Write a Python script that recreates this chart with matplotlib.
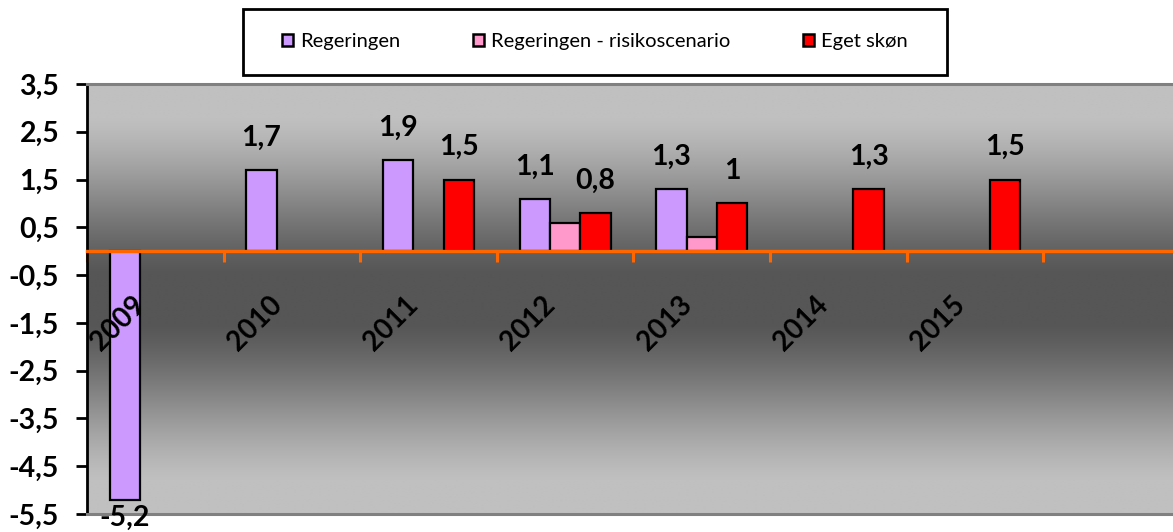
import numpy as np
import matplotlib
matplotlib.use("Agg")
import matplotlib.pyplot as plt
from matplotlib.patches import Rectangle, Patch

# ---- data ----
years = ["2009", "2010", "2011", "2012", "2013", "2014", "2015", ""]
regeringen = [-5.2, 1.7, 1.9, 1.1, 1.3, np.nan, np.nan, np.nan]
risiko = [np.nan, np.nan, np.nan, 0.6, 0.3, np.nan, np.nan, np.nan]
eget = [np.nan, np.nan, 1.5, 0.8, 1.0, 1.3, 1.5, np.nan]
series_names = ["Regeringen", "Regeringen - risikoscenario", "Eget skøn"]
series_colors = ["#CC99FF", "#FF99CC", "#FF0000"]
yticks = [-5.5, -4.5, -3.5, -2.5, -1.5, -0.5, 0.5, 1.5, 2.5, 3.5]

FONT = "Lato"
W, H = 1173, 532
fig = plt.figure(figsize=(W / 100, H / 100), dpi=100)
fig.patch.set_facecolor("white")

ax_left, ax_right, ax_top, ax_bot = 87, 87 + 8 * 136.6, 84, 514
ax = fig.add_axes([ax_left / W, 1 - ax_bot / H, (ax_right - ax_left) / W, (ax_bot - ax_top) / H])

ymin, ymax = -5.5, 3.5
ax.set_ylim(ymin, ymax)
ax.set_xlim(-0.5, len(years) - 0.5)

# background gradient (dark in the middle, light at top/bottom)
yy = np.linspace(0, 1, 400)
t = np.abs(yy - 0.5) * 2
s = np.clip((t - 0.12) / 0.72, 0, 1)
f = 0.6 * s + 0.4 * s * s * (3 - 2 * s)
grad = (86 + (192 - 86) * f) / 255.0
img = np.stack([grad, grad, grad], axis=-1)[:, None, :].repeat(2, axis=1)
ax.imshow(img, extent=(-0.5, len(years) - 0.5, ymin, ymax), aspect="auto",
          origin="lower", zorder=0, interpolation="bilinear")

x = np.arange(len(years))
bw = 0.2225
for k, (vals, col) in enumerate(zip([regeringen, risiko, eget], series_colors)):
    ax.bar(x + (k - 1) * bw, vals, width=bw, color=col, edgecolor="black",
           linewidth=1.6, zorder=3)

def fmt(v):
    return ("%g" % v).replace(".", ",")

for k, vals in [(0, regeringen), (2, eget)]:
    for i, v in enumerate(vals):
        if np.isnan(v):
            continue
        if v >= 0:
            ax.annotate(fmt(v), xy=(x[i] + (k - 1) * bw, v), xytext=(0, 17.5),
                        textcoords="offset points", ha="center", va="baseline",
                        fontsize=20.5, fontweight="bold", family=FONT, zorder=5)
        else:
            ax.annotate(fmt(v), xy=(x[i] + (k - 1) * bw, v), xytext=(0, -4),
                        textcoords="offset points", ha="center", va="top",
                        fontsize=20.5, fontweight="bold", family=FONT, zorder=5,
                        annotation_clip=False)

# x category labels, rotated, below the zero line
for i, lab in enumerate(years):
    if lab:
        ax.annotate(lab, xy=(x[i], 0), xytext=(-3.5, -29), textcoords="offset points",
                    rotation=45, ha="right", va="top", fontsize=20,
                    fontweight="bold", family=FONT, zorder=5)

# spines
ax.spines["right"].set_visible(False)
ax.spines["top"].set_color("#808080")
ax.spines["top"].set_linewidth(2.2)
ax.spines["left"].set_color("black")
ax.spines["left"].set_linewidth(2.0)
ax.spines["bottom"].set_position(("data", 0))
ax.spines["bottom"].set_color("#FF6600")
ax.spines["bottom"].set_linewidth(2.4)
ax.spines["bottom"].set_zorder(4)
ax.axhline(ymin, color="#808080", linewidth=2.2, zorder=4, clip_on=False)

ax.set_xticks(np.arange(-0.5, len(years) + 0.5, 1.0))
ax.set_xticklabels([])
ax.tick_params(axis="x", direction="out", length=8, width=2.2, color="#FF6600")

ax.set_yticks(yticks)
ax.set_yticklabels([fmt(v) for v in yticks])
ax.tick_params(axis="y", direction="out", length=8, width=2.0, color="black", pad=12)
for lab in ax.get_yticklabels():
    lab.set_fontsize(20.5)
    lab.set_fontweight("bold")
    lab.set_family(FONT)

# legend
box = Rectangle((243 / W, 1 - 75 / H), (947 - 243) / W, (75 - 9) / H,
                transform=fig.transFigure, facecolor="white", edgecolor="black",
                linewidth=2.0, zorder=1)
fig.patches.append(box)
handles = [Patch(facecolor=c, edgecolor="black", linewidth=1.8) for c in series_colors]
leg = fig.legend(handles, series_names, loc="center", bbox_to_anchor=(595 / W, 1 - 42 / H),
                 ncol=3, frameon=False, prop={"family": FONT, "size": 14.5},
                 handlelength=0.55, handleheight=0.55, handletextpad=0.35,
                 columnspacing=3.6)

fig.savefig("out.png", dpi=100)
